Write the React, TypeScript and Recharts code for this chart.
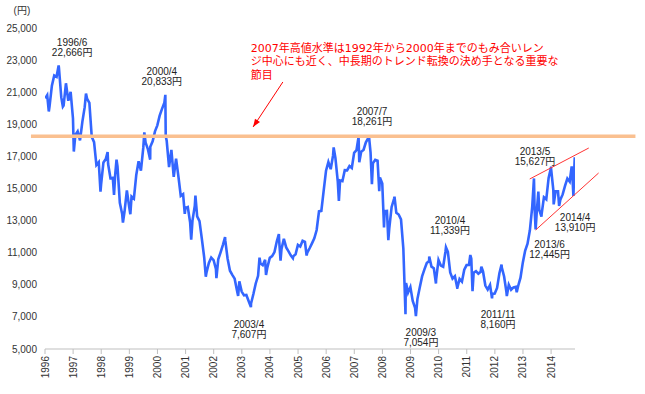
import React from 'react';
import { LineChart, Line, XAxis, YAxis, ReferenceLine, ReferenceDot } from 'recharts';

// 日経平均 月末終値 (1996-2014)
const years = [1996, 1997, 1998, 1999, 2000, 2001, 2002, 2003, 2004, 2005, 2006, 2007, 2008, 2009, 2010, 2011, 2012, 2013, 2014];
const monthlyCloses = [
  [20813, 20125, 21407, 22041, 21956, 22531, 20693, 20167, 21556, 20467, 21020, 19361],
  [18330, 18557, 18003, 19151, 20069, 20605, 20331, 18229, 17888, 16459, 16636, 15259],
  [16628, 16832, 16527, 15641, 15671, 15830, 16379, 14108, 13406, 13565, 14884, 13842],
  [14499, 14368, 15837, 16701, 16112, 17530, 17862, 17437, 17605, 17943, 18558, 18934],
  [19540, 19960, 20337, 17974, 16332, 17411, 15727, 16861, 15747, 14539, 14649, 13786],
  [13843, 12884, 12999, 13934, 13262, 12969, 11861, 10713, 9775, 10366, 10697, 10543],
  [9997, 10588, 11025, 11493, 11764, 10622, 9878, 9619, 9383, 8640, 9216, 8579],
  [8340, 8363, 7973, 7831, 8425, 9083, 9563, 10344, 10219, 10560, 10101, 10677],
  [10784, 11042, 11715, 11762, 11236, 11859, 11326, 11082, 10824, 10771, 10899, 11489],
  [11388, 11741, 11669, 11009, 11277, 11584, 11900, 12414, 13574, 13607, 14872, 16111],
  [16650, 16205, 17059, 16906, 15467, 15505, 15457, 16141, 16128, 16399, 16274, 17226],
  [17383, 17604, 17288, 17400, 17876, 18138, 17249, 16569, 16786, 16737, 15681, 15308],
  [13592, 13604, 12526, 13850, 14339, 13481, 13377, 13073, 11260, 8577, 8512, 8860],
  [7994, 7568, 8110, 8828, 9523, 9958, 10357, 10493, 10133, 10035, 9346, 10546],
  [10198, 10126, 11090, 11057, 9769, 9383, 9537, 8824, 9369, 9202, 9937, 10229],
  [10238, 10624, 9755, 9850, 9694, 9816, 9833, 8955, 8700, 8988, 8435, 8455],
  [8803, 9723, 10084, 9521, 8543, 9007, 8695, 8840, 8870, 8928, 9446, 10395],
  [11139, 11559, 12398, 13861, 13775, 13677, 13668, 13389, 14456, 14328, 15662, 16291],
  [14915, 14841, 14828, 14304, 14632, 15162, 15621, 15425, 16174, 16414],
];

// 月中の高値・安値
const swingDates = [
  '1996/01/04', '1996/02/20', '1996/06/26', '1996/08/20', '1997/01/10', '1997/06/16', '1997/12/22',
  '1998/03/23', '1998/06/15', '1998/07/17', '1998/10/09', '1999/01/14', '1999/07/13', '1999/09/28',
  '2000/04/12', '2000/04/17', '2000/12/21', '2001/03/13', '2001/05/07', '2001/09/20', '2002/02/06',
  '2002/05/27', '2002/11/14', '2003/04/28', '2003/08/18', '2003/11/11', '2004/04/26', '2004/05/17',
  '2004/10/25', '2005/04/21', '2006/04/07', '2006/06/14', '2007/02/26', '2007/03/05', '2007/07/09',
  '2007/08/17', '2007/11/21', '2008/01/22', '2008/03/17', '2008/06/06', '2008/10/27', '2008/11/04',
  '2009/03/10', '2009/08/31', '2009/11/27', '2010/04/05', '2010/08/31', '2011/02/17', '2011/03/15',
  '2011/07/08', '2011/11/25', '2012/03/27', '2012/06/04', '2012/10/11', '2013/05/22', '2013/06/13',
  '2013/07/18', '2013/08/28', '2013/12/30', '2014/02/04', '2014/04/14', '2014/09/25', '2014/10/17',
  '2014/11/04',
];
const swingValues = [
  20618, 19800, 22666, 20100, 17303, 20910, 14800,
  17264, 14600, 16800, 12880, 13400, 18500, 16800,
  20833, 18253, 13423, 11819, 14556, 9504, 9420,
  11979, 8303, 7607, 10687, 9614, 12163, 10505,
  10659, 10825, 17563, 14219, 18215, 16642, 18261,
  15273, 14838, 12573, 11787, 14489, 7162, 9114,
  7054, 10767, 9081, 11339, 8824, 10857, 8605,
  10137, 8160, 10255, 8295, 8534, 15627, 12445,
  14808, 13250, 16291, 14009, 13910, 16374, 14532,
  16950,
];

const noteLabels = ['1996/6', '2000/4', '2003/4', '2007/7', '2009/3', '2010/4', '2011/11', '2013/5', '2013/6', '2014/4'];
const noteDates = ['1996/06/26', '2000/04/12', '2003/04/28', '2007/07/09', '2009/03/10', '2010/04/05', '2011/11/25', '2013/05/22', '2013/06/13', '2014/04/14'];
const noteValues = [22666, 20833, 7607, 18261, 7054, 11339, 8160, 15627, 12445, 13910];
const noteOffsets = [[13.5, -22.5], [-3.5, -23], [-2, 17], [3, -25], [5, 16], [4, -27], [6, 16], [1, -27], [14, 14.5], [16, 12]];

const yTicks = [5000, 7000, 9000, 11000, 13000, 15000, 17000, 19000, 21000, 23000, 25000];
const resistance = 18261;
const commentLines = [
  '2007年高値水準は1992年から2000年までのもみ合いレン',
  'ジ中心にも近く、中長期のトレンド転換の決め手となる重要な',
  '節目',
];

const FONT = "'Liberation Sans', 'Noto Sans CJK JP', sans-serif";

const toYear = (d: string) => {
  const [y, m, dd] = d.split('/').map(Number);
  return y + (m - 1) / 12 + (dd - 1) / 365;
};

const data = [
  ...monthlyCloses.flatMap((row, i) => row.map((v, m) => ({ t: years[i] + (m + 1) / 12 - 0.005, v }))),
  ...swingDates.map((d, i) => ({ t: toYear(d), v: swingValues[i] })),
].sort((a, b) => a.t - b.t);

const YearTick = (props: any) => {
  const { x, y, payload } = props;
  return (
    <text x={x} y={y} dy="0.35em" transform={`rotate(-90 ${x} ${y})`} textAnchor="end"
      fontSize={10} fill="#333" fontFamily={FONT}>
      {payload.value}
    </text>
  );
};

const Note = ({ cx, cy, dx, dy, lines }: any) => (
  <text textAnchor="middle" fontSize={10} fill="#222" fontFamily={FONT}>
    <tspan x={cx + dx} y={cy + dy} dy="0.35em">{lines[0]}</tspan>
    <tspan x={cx + dx} dy={10}>{lines[1]}</tspan>
  </text>
);

const Comment = ({ cx, cy }: any) => (
  <text fontSize={11} fill="#ff0000" fontFamily="'DejaVu Sans', 'Noto Sans CJK JP', sans-serif">
    {commentLines.map((s, i) => (
      <tspan key={i} x={cx - 32} y={cy - 30 + i * 13.5}>{s}</tspan>
    ))}
  </text>
);

const ArrowHead = ({ cx, cy }: any) => (
  <polygon points="0,0 -8,-3 -8,3" fill="#ff0000" transform={`translate(${cx} ${cy}) rotate(123.7)`} />
);

export default function App() {
  return (
    <div style={{ position: 'absolute', left: 0, top: 0, width: 645, height: 394, background: '#fff' }}>
      <LineChart width={645} height={394} data={data} margin={{ top: 28, right: 70, bottom: 5, left: 0 }}>
        <XAxis dataKey="t" type="number" domain={[1996, 2014.85]} ticks={years} interval={0}
          height={40} tickSize={5} tickMargin={2} stroke="#bfbfbf" tick={<YearTick />} allowDataOverflow />
        <YAxis type="number" domain={[5000, 25000]} ticks={yTicks} interval={0} width={45}
          axisLine={false} tickLine={false} tick={{ fontSize: 10, fill: '#333', fontFamily: FONT }}
          tickFormatter={(v: number) => v.toLocaleString('en-US')} />
        <Line dataKey="v" type="linear" stroke="#3366ff" strokeWidth={2.6} strokeLinejoin="miter" dot={false} isAnimationActive={false} />
        <ReferenceLine segment={[{ x: 1995.5, y: resistance }, { x: 2017, y: resistance }]}
          stroke="#fac090" strokeWidth={3.5} ifOverflow="visible" />
        <ReferenceLine segment={[{ x: 2013.24, y: 15592 }, { x: 2015.34, y: 17523 }]}
          stroke="#ff3333" strokeWidth={1} ifOverflow="visible" />
        <ReferenceLine segment={[{ x: 2013.45, y: 12414 }, { x: 2015.69, y: 15966 }]}
          stroke="#ff3333" strokeWidth={1} ifOverflow="visible" />
        <ReferenceLine segment={[{ x: 2004.46, y: 21636 }, { x: 2003.4, y: 18832 }]}
          stroke="#ff0000" strokeWidth={1} ifOverflow="visible" />
        <ReferenceDot x={2003.4} y={18832} r={0} ifOverflow="visible" shape={(p: any) => <ArrowHead cx={p.cx} cy={p.cy} />} />
        <ReferenceDot x={2004.46} y={21636} r={0} ifOverflow="visible" shape={(p: any) => <Comment cx={p.cx} cy={p.cy} />} />
        <ReferenceDot x={1995.18} y={26120} r={0} ifOverflow="visible"
          shape={(p: any) => (
            <text x={p.cx} y={p.cy} dy="0.35em" textAnchor="middle" fontSize={10} fill="#333" fontFamily={FONT}>(円)</text>
          )} />
        {noteLabels.map((label, i) => (
          <ReferenceDot key={label} x={toYear(noteDates[i])} y={noteValues[i]} r={0} ifOverflow="visible"
            shape={(p: any) => (
              <Note cx={p.cx} cy={p.cy} dx={noteOffsets[i][0]} dy={noteOffsets[i][1]}
                lines={[label, `${noteValues[i].toLocaleString('en-US')}円`]} />
            )} />
        ))}
      </LineChart>
    </div>
  );
}
